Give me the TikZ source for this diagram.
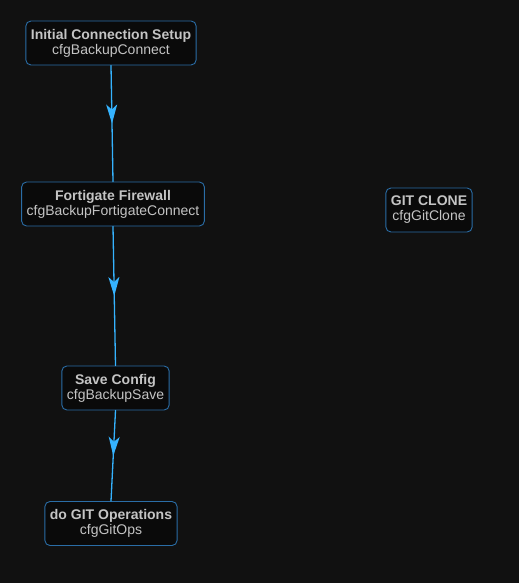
\documentclass[tikz,border=0pt]{standalone}
\usepackage{fontspec}
\setmainfont{Liberation Sans}
\usetikzlibrary{arrows.meta, decorations.markings}

\definecolor{canvas}{HTML}{111111}
\definecolor{boxfill}{HTML}{0A0A0A}
\definecolor{boxline}{HTML}{2A6DA6}
\definecolor{flowline}{HTML}{35B3FF}
\definecolor{labeltext}{HTML}{C4C4C4}

\begin{document}
\begin{tikzpicture}[x=1pt, y=-1pt, line cap=round, line join=round,
    step box/.style={draw=boxline, fill=boxfill, rounded corners=5pt, line width=0.9pt,
        text=labeltext, align=center, inner xsep=5pt, minimum height=44pt,
        font=\fontsize{14}{15}\selectfont},
    flow/.style={draw=flowline, line width=1.3pt,
        decoration={markings, mark=at position 0.5 with {\arrow{Stealth[length=19pt, width=11pt, inset=5pt]}}},
        postaction=decorate}]
    % background
    \fill[canvas] (0,0) rectangle (519,583);
    \useasboundingbox (0,0) rectangle (519,583);
    % backup steps
    \node[step box] (connect) at (111,43)    {\textbf{Initial Connection Setup}\\cfgBackupConnect};
    \node[step box] (forti)   at (113,204)   {\textbf{Fortigate Firewall}\\cfgBackupFortigateConnect};
    \node[step box] (save)    at (115.5,388) {\textbf{Save Config}\\cfgBackupSave};
    \node[step box] (gitops)  at (111,523.5) {\textbf{do GIT Operations}\\cfgGitOps};
    % separate step
    \node[step box] (clone)   at (429,210)   {\textbf{GIT CLONE}\\cfgGitClone};
    % flow between steps
    \draw[flow] (connect.south) -- (forti.north);
    \draw[flow] (forti.south) -- (save.north);
    \draw[flow] (save.south) -- (gitops.north);
\end{tikzpicture}
\end{document}
